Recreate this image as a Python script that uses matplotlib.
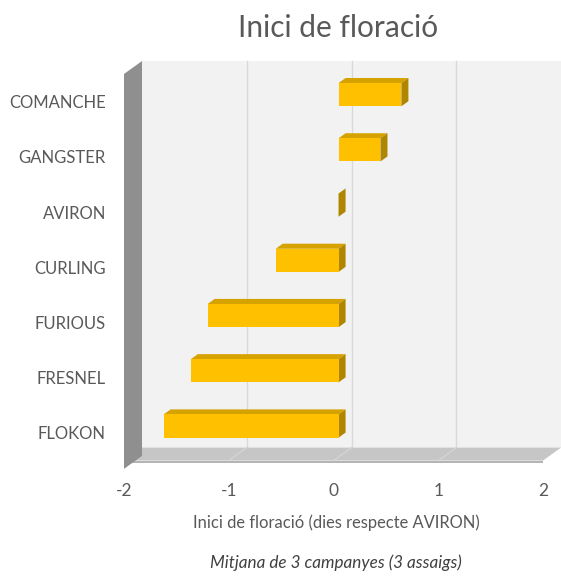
import matplotlib

matplotlib.use("Agg")
import matplotlib.pyplot as plt

# Days of flowering onset relative to AVIRON (mean of 3 seasons)
varieties = ["FLOKON", "FRESNEL", "FURIOUS", "CURLING", "AVIRON", "GANGSTER", "COMANCHE"]
days = [-1.67, -1.41, -1.25, -0.60, 0.0, 0.40, 0.60]
x_ticks = [-2, -1, 0, 1, 2]
x_tick_labels = ["-2", "-1", "0", "1", "2"]

TITLE = "Inici de floració"
XLABEL = "Inici de floració (dies respecte AVIRON)"
CAPTION = "Mitjana de 3 campanyes (3 assaigs)"

# Oblique 3D projection: full depth shifts right / up (in data units)
DEPTH_X = 0.172
DEPTH_Y = 0.235
BAR_D0, BAR_D1 = 0.28, 0.67
BAR_H = 0.42
BAR_SHIFT = 0.06

GOLD = "#ffc000"
GOLD_TOP = "#d6a200"
GOLD_SIDE = "#b08600"
TEXT = "#595959"

plt.rcParams["font.family"] = ["Lato", "DejaVu Sans"]

W, H = 561, 579
fig = plt.figure(figsize=(W / 100, H / 100), dpi=100)
ax = fig.add_axes([124 / W, (H - 460.6) / H, 419 / W, 386.6 / H])
XMIN, XMAX = x_ticks[0], x_ticks[-1]
YMIN, YMAX = -0.5, len(varieties) - 0.5
ax.set_xlim(XMIN, XMAX)
ax.set_ylim(YMIN, YMAX)
ax.set_frame_on(False)
ax.patch.set_alpha(0)


def proj(x, y, d):
    return x + d * DEPTH_X, y + d * DEPTH_Y


def face(points, color, z, **kw):
    xs, ys = zip(*[proj(*p) for p in points])
    ax.fill(xs, ys, color=color, zorder=z, clip_on=False, lw=0, **kw)


# back wall
face([(XMIN, YMIN, 1), (XMAX, YMIN, 1), (XMAX, YMAX, 1), (XMIN, YMAX, 1)], "#f2f2f2", 1)
for t in x_ticks[1:-1]:
    xs, ys = zip(proj(t, YMIN, 1), proj(t, YMAX, 1))
    ax.plot(xs, ys, color="#d9d9d9", lw=1, zorder=2, clip_on=False)

# floor with a thin front edge
face([(XMIN, YMIN, 0), (XMAX, YMIN, 0), (XMAX, YMIN, 1), (XMIN, YMIN, 1)], "#c6c6c6", 3)
face([(XMIN, YMIN - 0.05, 0), (XMAX, YMIN - 0.05, 0), (XMAX, YMIN, 0), (XMIN, YMIN, 0)], "#b4b4b4", 3)
for t in x_ticks[1:-1]:
    xs, ys = zip(proj(t, YMIN, 0), proj(t, YMIN, 1))
    ax.plot(xs, ys, color="#d4d4d4", lw=1, zorder=4, clip_on=False)

# left wall
face([(XMIN, YMIN - 0.15, 0), (XMIN, YMAX, 0), (XMIN, YMAX, 1), (XMIN, YMIN - 0.15, 1)], "#8f8f8f", 5)

# bars
for i, v in enumerate(days):
    lo, hi = min(v, 0), max(v, 0)
    y0 = i + BAR_SHIFT - BAR_H / 2
    y1 = i + BAR_SHIFT + BAR_H / 2
    # top face
    face([(lo, y1, BAR_D0), (hi, y1, BAR_D0), (hi, y1, BAR_D1), (lo, y1, BAR_D1)], GOLD_TOP, 6)
    # right side face
    face([(hi, y0, BAR_D0), (hi, y1, BAR_D0), (hi, y1, BAR_D1), (hi, y0, BAR_D1)], GOLD_SIDE, 6)
    # front face
    if hi > lo:
        face([(lo, y0, BAR_D0), (hi, y0, BAR_D0), (hi, y1, BAR_D0), (lo, y1, BAR_D0)], GOLD, 7)

ax.set_xticks(x_ticks, x_tick_labels)
ax.set_yticks(range(len(varieties)), varieties)
ax.tick_params(axis="both", length=0, colors=TEXT)
ax.tick_params(axis="x", labelsize=12.5, pad=16)
ax.tick_params(axis="y", labelsize=12, pad=13)

fig.text(338 / W, 1 - 28 / H, TITLE, ha="center", va="center", fontsize=21.5, color=TEXT)
fig.text(336 / W, 1 - 523 / H, XLABEL, ha="center", va="center", fontsize=11.9, color=TEXT)
fig.text(336 / W, 1 - 563 / H, CAPTION, ha="center", va="center", fontsize=12.3,
         color="#404040", style="italic")

fig.savefig("out.png", dpi=100)
